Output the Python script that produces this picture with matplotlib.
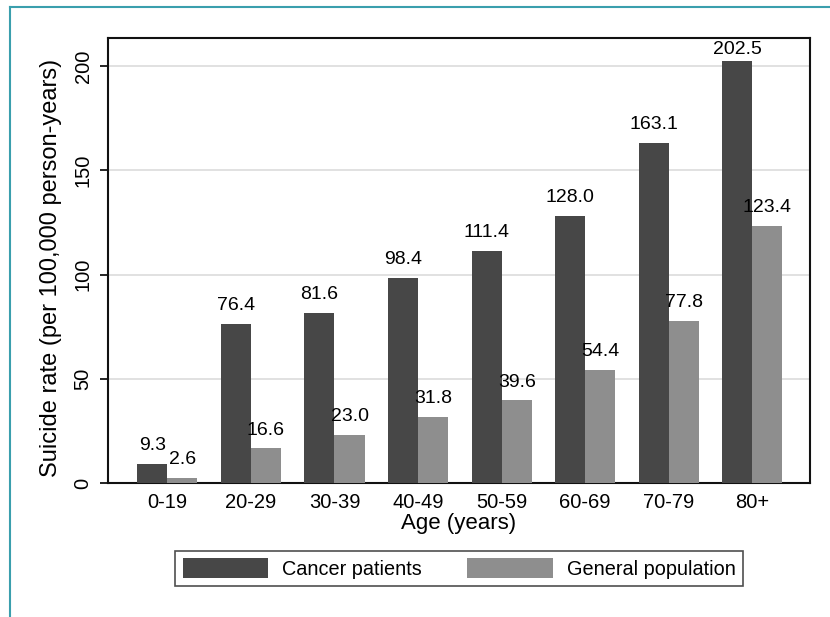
import matplotlib
matplotlib.use("Agg")
import matplotlib.pyplot as plt
import numpy as np
from matplotlib.lines import Line2D

plt.rcParams["font.family"] = ["Liberation Sans", "DejaVu Sans"]

age_groups = ["0-19", "20-29", "30-39", "40-49", "50-59", "60-69", "70-79", "80+"]
cancer_patients = [9.3, 76.4, 81.6, 98.4, 111.4, 128.0, 163.1, 202.5]
general_population = [2.6, 16.6, 23.0, 31.8, 39.6, 54.4, 77.8, 123.4]
y_ticks = [0, 50, 100, 150, 200]

DARK = "#474747"
GRAY = "#8e8e8e"

fig = plt.figure(figsize=(8.30, 6.17), dpi=100)
ax = fig.add_axes([108 / 830, 1 - 483 / 617, 702 / 830, 445 / 617])

x = np.arange(len(age_groups))
w = 0.36
b1 = ax.bar(x - w / 2, cancer_patients, w, color=DARK, label="Cancer patients", zorder=3)
b2 = ax.bar(x + w / 2, general_population, w, color=GRAY, label="General population", zorder=3)

ymax = 213.5
for bars, vals in ((b1, cancer_patients), (b2, general_population)):
    for rect, v in zip(bars, vals):
        # labels are kept inside the plot region, so the tallest one sits closer
        off = 7 if v < 0.9 * ymax else 2
        ax.annotate(f"{v:.1f}", (rect.get_x() + rect.get_width() / 2, v),
                    xytext=(0, off), textcoords="offset points",
                    ha="center", va="bottom", fontsize=14)

ax.set_xlim(-0.71, 7.69)
ax.set_ylim(0, ymax)
ax.set_yticks(y_ticks)
ax.set_yticklabels([str(t) for t in y_ticks], rotation=90, va="center", fontsize=14.5)
ax.set_xticks(x)
ax.set_xticklabels(age_groups, fontsize=14.5)
ax.tick_params(axis="x", length=0, pad=7)
ax.tick_params(axis="y", length=6, width=1.2, pad=5)
ax.yaxis.grid(True, color="#dcdcdc", lw=1.2, zorder=0)
ax.set_axisbelow(True)
for s in ax.spines.values():
    s.set_linewidth(1.5)
    s.set_color("#111111")

ax.set_xlabel("Age (years)", fontsize=16, labelpad=1)
ax.set_ylabel("Suicide rate (per 100,000 person-years)", fontsize=17)
ax.yaxis.set_label_coords(-0.066, 0.483)

leg = ax.legend(loc="upper center", bbox_to_anchor=(0.5, -0.13), ncol=2,
                fontsize=14.3, frameon=True, fancybox=False, edgecolor="#222222",
                handlelength=4.3, handleheight=1.15, handletextpad=0.7,
                columnspacing=2.3, borderpad=0.38)
leg.get_frame().set_linewidth(1.2)

# teal frame around the figure
teal = "#3a9fad"
fig.add_artist(Line2D([10 / 830, 10 / 830], [0, 1 - 7 / 617], color=teal, lw=1.5,
                      transform=fig.transFigure))
fig.add_artist(Line2D([10 / 830, 1], [1 - 7 / 617, 1 - 7 / 617], color=teal, lw=1.5,
                      transform=fig.transFigure))

fig.savefig("out.png", dpi=100)
